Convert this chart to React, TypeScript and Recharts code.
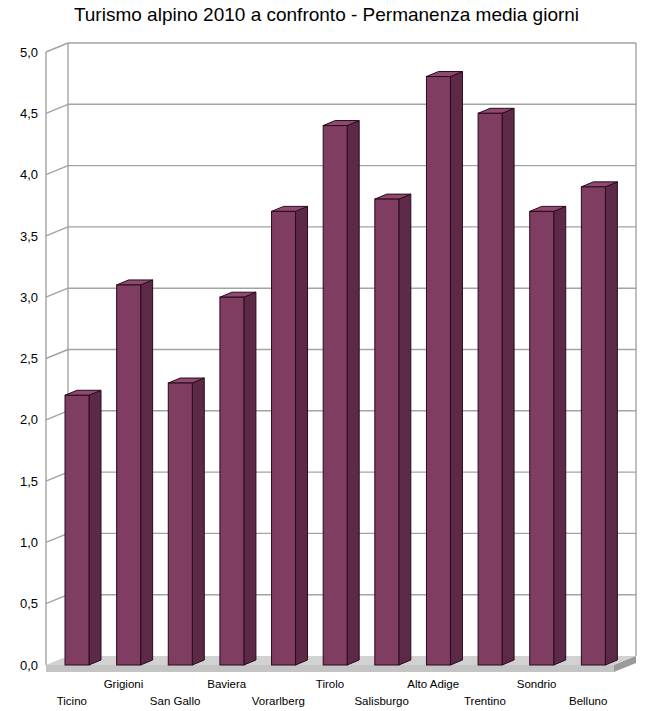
import { BarChart, Bar, XAxis, YAxis, ReferenceArea } from 'recharts';

const categories = [
  'Ticino',
  'Grigioni',
  'San Gallo',
  'Baviera',
  'Vorarlberg',
  'Tirolo',
  'Salisburgo',
  'Alto Adige',
  'Trentino',
  'Sondrio',
  'Belluno',
];
const permanenza = [2.2, 3.1, 2.3, 3.0, 3.7, 4.4, 3.8, 4.8, 4.5, 3.7, 3.9];
const yTicks = [0, 0.5, 1, 1.5, 2, 2.5, 3, 3.5, 4, 4.5, 5];

const data = categories.map((name, i) => ({ name, value: permanenza[i] }));

// profondità della "scatola" 3D
const WALL_DX = 22;
const WALL_DY = 9;
const BAR_DX = 12;
const BAR_DY = 5;
const BAR_SHIFT = 5;

const GRID = '#a3a3a3';

function Bar3D(props: any) {
  const { x, y, width, height } = props;
  if (height == null || height <= 0) return null;
  const fx = x + BAR_SHIFT;
  const stroke = '#2a0a1c';
  return (
    <g>
      <polygon
        points={`${fx + width},${y} ${fx + width + BAR_DX},${y - BAR_DY} ${fx + width + BAR_DX},${y + height - BAR_DY} ${fx + width},${y + height}`}
        fill="#5c2a46"
        stroke={stroke}
        strokeWidth={1}
      />
      <polygon
        points={`${fx},${y} ${fx + BAR_DX},${y - BAR_DY} ${fx + width + BAR_DX},${y - BAR_DY} ${fx + width},${y}`}
        fill="#8e4a70"
        stroke={stroke}
        strokeWidth={1}
      />
      <rect x={fx} y={y} width={width} height={height} fill="#803d62" stroke={stroke} strokeWidth={1} />
    </g>
  );
}

// pareti, pavimento e griglia della scena 3D, ricavati dall'area del grafico
function Walls(props: any) {
  const { x, y, width, height } = props;
  const bottom = y + height;
  const right = x + width;
  const lines = yTicks.slice(1).map((t) => {
    const py = bottom - (t / 5) * height;
    return (
      <g key={t}>
        <line x1={x} y1={py} x2={x + WALL_DX} y2={py - WALL_DY} stroke={GRID} strokeWidth={1.4} />
        <line x1={x + WALL_DX} y1={py - WALL_DY} x2={right + WALL_DX} y2={py - WALL_DY} stroke={GRID} strokeWidth={1.4} />
      </g>
    );
  });
  const slab = 7;
  return (
    <g>
      <line x1={x} y1={y} x2={x} y2={bottom} stroke={GRID} strokeWidth={1.4} />
      <line x1={x + WALL_DX} y1={y - WALL_DY} x2={x + WALL_DX} y2={bottom - WALL_DY} stroke={GRID} strokeWidth={1.4} />
      <line x1={right + WALL_DX} y1={y - WALL_DY} x2={right + WALL_DX} y2={bottom - WALL_DY} stroke={GRID} strokeWidth={1.4} />
      {lines}
      <polygon
        points={`${x},${bottom} ${x + WALL_DX},${bottom - WALL_DY} ${right + WALL_DX},${bottom - WALL_DY} ${right},${bottom}`}
        fill="#d2d2d2"
      />
      <rect x={x} y={bottom} width={width} height={slab} fill="#c4c4c4" />
      <polygon
        points={`${right},${bottom} ${right + WALL_DX},${bottom - WALL_DY} ${right + WALL_DX},${bottom - WALL_DY + slab} ${right},${bottom + slab}`}
        fill="#9a9a9a"
      />
    </g>
  );
}

function CategoryTick(props: any) {
  const { x, y, payload, index } = props;
  const dy = index % 2 === 0 ? 32 : 15;
  return (
    <text x={x} y={y + dy} textAnchor="middle" fontSize={11.5} fill="#000" fontFamily="'Liberation Sans', Arial, sans-serif">
      {payload.value}
    </text>
  );
}

export default function App() {
  return (
    <div style={{ position: 'absolute', left: 0, top: 0, width: 648, height: 711, background: '#fff' }}>
      <div
        style={{
          position: 'absolute',
          left: 0,
          top: 4,
          width: 653,
          textAlign: 'center',
          fontFamily: "'Liberation Sans', Arial, sans-serif",
          fontSize: 19,
          color: '#000',
        }}
      >
        Turismo alpino 2010 a confronto - Permanenza media giorni
      </div>
      <BarChart
        width={648}
        height={711}
        data={data}
        margin={{ top: 52, right: 34, left: 0, bottom: 6 }}
        barCategoryGap={0}
      >
        <ReferenceArea y1={0} y2={5} fill="none" shape={<Walls />} ifOverflow="visible" />
        <XAxis
          dataKey="name"
          height={40}
          axisLine={false}
          tickLine={false}
          interval={0}
          tick={<CategoryTick />}
        />
        <YAxis
          width={46}
          domain={[0, 5]}
          ticks={yTicks}
          axisLine={false}
          tickLine={false}
          tick={{ fontSize: 13, fill: '#000', fontFamily: "'Liberation Sans', Arial, sans-serif" }}
          tickFormatter={(v: number) => v.toFixed(1).replace('.', ',')}
        />
        <Bar dataKey="value" barSize={24} shape={<Bar3D />} isAnimationActive={false} />
      </BarChart>
    </div>
  );
}
